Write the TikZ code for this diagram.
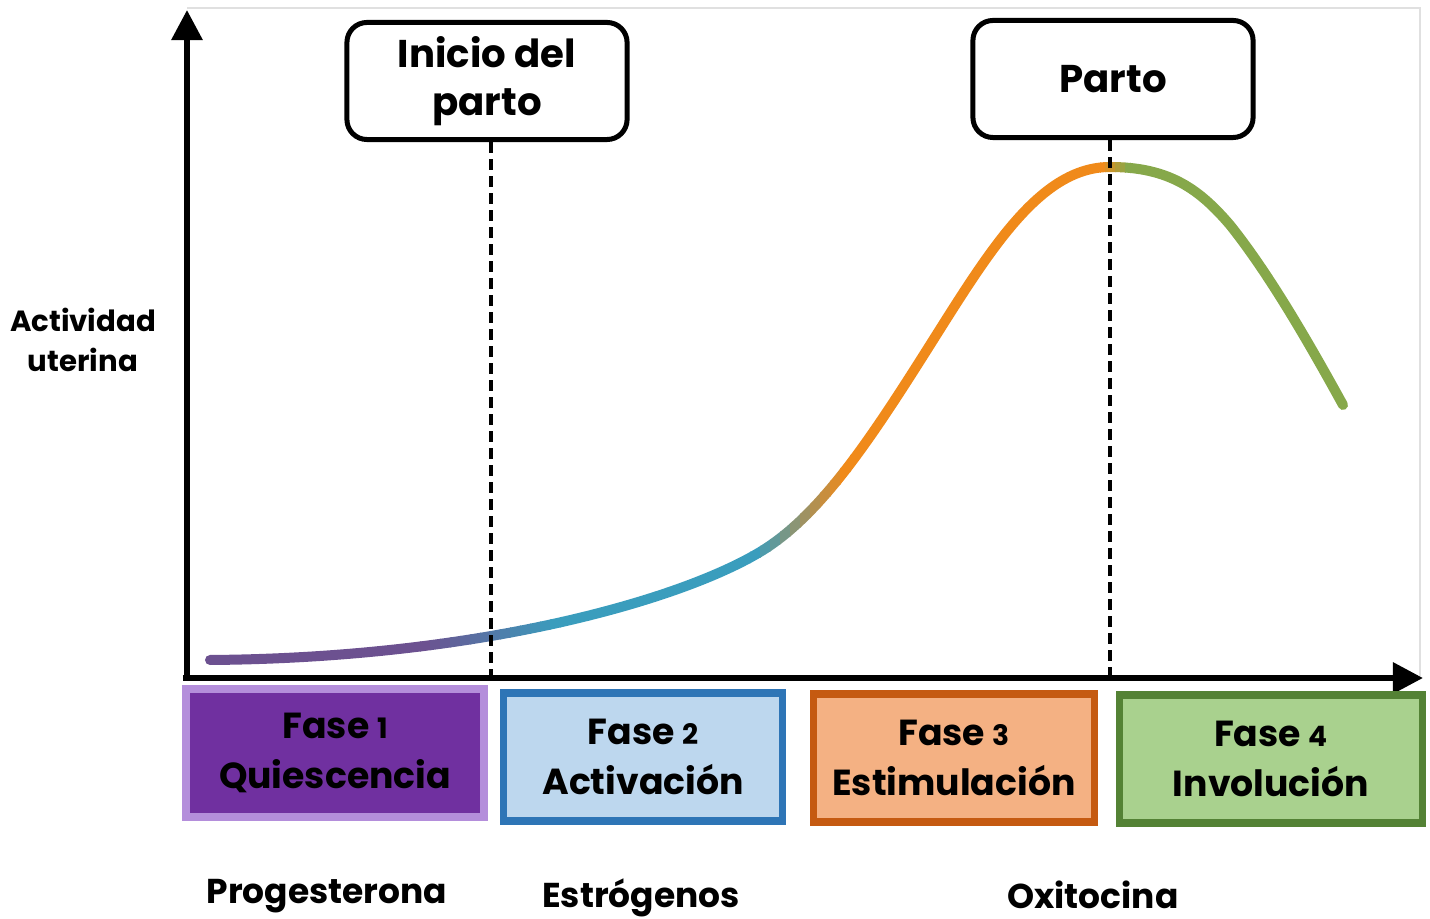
\documentclass[tikz,border=0pt]{standalone}
\usepackage{fontspec}
\setmainfont{Poppins}
\usetikzlibrary{arrows.meta}
\definecolor{faseifill}{HTML}{7030A0}
\definecolor{faseiline}{HTML}{B48EDB}
\definecolor{faseiifill}{HTML}{BDD7EE}
\definecolor{faseiiline}{HTML}{2E75B6}
\definecolor{faseiiifill}{HTML}{F4B183}
\definecolor{faseiiiline}{HTML}{C55A11}
\definecolor{faseivfill}{HTML}{A9D18E}
\definecolor{faseivline}{HTML}{548235}
\definecolor{curvepurple}{HTML}{6C5190}
\definecolor{curveteal}{HTML}{3A9DBD}
\definecolor{curveorange}{HTML}{F08A1A}
\definecolor{curvegreen}{HTML}{86A84A}
\newcommand{\fasenum}[1]{{\fontsize{8}{10}\selectfont #1}}
\newcommand{\curvepath}{(210,660) .. controls (480,658) and (680,600) .. (760,552)
  .. controls (820,516) and (870,440) .. (930,345)
  .. controls (990,250) and (1040,167) .. (1110,167)
  .. controls (1170,167) and (1200,190) .. (1230,225)
  .. controls (1270,275) and (1310,345) .. (1343,405)}
\newcommand{\curvestrip}[3]{\begin{scope}\clip (#1,0) rectangle (#2,919);\draw[curve,draw=#3] \curvepath;\end{scope}}
\begin{document}
\begin{tikzpicture}[x=0.01cm, y=-0.01cm, every node/.style={font=\bfseries\fontsize{10.3}{14}\selectfont},
  axis/.style={line width=0.06cm,-{Triangle[length=0.3cm,width=0.3cm]}},
  frame/.style={draw=black!12,line width=0.02cm},
  event box/.style={draw,line width=0.05cm,rounded corners=0.2cm,fill=white,minimum width=2.8cm,minimum height=1.17cm,align=center,font=\bfseries\fontsize{11}{13.5}\selectfont},
  fase box/.style={line width=0.075cm,minimum height=1.28cm,align=center},
  marker/.style={line width=0.04cm,dash pattern=on 0.11cm off 0.06cm},
  curve/.style={line width=0.1cm,line cap=round},
  hormone/.style={font=\bfseries\fontsize{9.8}{12}\selectfont}]
\useasboundingbox (0,0) rectangle (1430,919);
\draw[frame] (187,8) -- (1420,8) -- (1420,676);
% the curve, coloured in strips
\curvestrip{180}{421}{curvepurple}
\foreach \i in {0,...,13} {
  \pgfmathsetmacro{\xa}{420+10*\i}
  \pgfmathsetmacro{\xb}{\xa+11}
  \pgfmathsetmacro{\p}{100*\i/13}
  \curvestrip{\xa}{\xb}{curveteal!\p!curvepurple}
}
\curvestrip{560}{751}{curveteal}
\foreach \i in {0,...,9} {
  \pgfmathsetmacro{\xa}{750+10*\i}
  \pgfmathsetmacro{\xb}{\xa+11}
  \pgfmathsetmacro{\p}{100*\i/9}
  \curvestrip{\xa}{\xb}{curveorange!\p!curveteal}
}
\curvestrip{850}{1101}{curveorange}
\foreach \i in {0,...,5} {
  \pgfmathsetmacro{\xa}{1100+5*\i}
  \pgfmathsetmacro{\xb}{\xa+6}
  \pgfmathsetmacro{\p}{100*\i/5}
  \curvestrip{\xa}{\xb}{curvegreen!\p!curveorange}
}
\curvestrip{1130}{1370}{curvegreen}
% axes
\coordinate (o) at (187,678);
\coordinate (ytop) at (187,10);
\coordinate (xend) at (1423,678);
\draw[axis] (187,681) -- (ytop);
\draw[axis] (183,678) -- (xend);
\node (act) at (83,340) [font=\bfseries\fontsize{8.3}{11.5}\selectfont,align=center] {Actividad\\uterina};
% events
\node[event box] (inicio) at (487,81) {Inicio del\\parto};
\node[event box] (parto) at (1113,79) {Parto};
\coordinate (d1) at (491,676);
\coordinate (d2) at (1110,676);
\draw[marker] (d1 |- inicio.south) -- (d1);
\draw[marker] (d2 |- parto.south) -- (d2);
% phases
\node[fase box,draw=faseiline,fill=faseifill,minimum width=2.98cm] (f1) at (335,753) {Fase \fasenum{1}\\Quiescencia};
\node[fase box,draw=faseiiline,fill=faseiifill,minimum width=2.79cm] (f2) at (643,757) {Fase \fasenum{2}\\Activación};
\node[fase box,draw=faseiiiline,fill=faseiiifill,minimum width=2.81cm] (f3) at (954,758) {Fase \fasenum{3}\\Estimulación};
\node[fase box,draw=faseivline,fill=faseivfill,minimum width=3.03cm] (f4) at (1271,759) {Fase \fasenum{4}\\Involución};
% hormones
\node[hormone] (prog) at (327,896) {Progesterona};
\node[hormone] (estr) at (641,898) {Estrógenos};
\node[hormone] (oxi) at (1093,895) {Oxitocina};
\end{tikzpicture}
\end{document}
